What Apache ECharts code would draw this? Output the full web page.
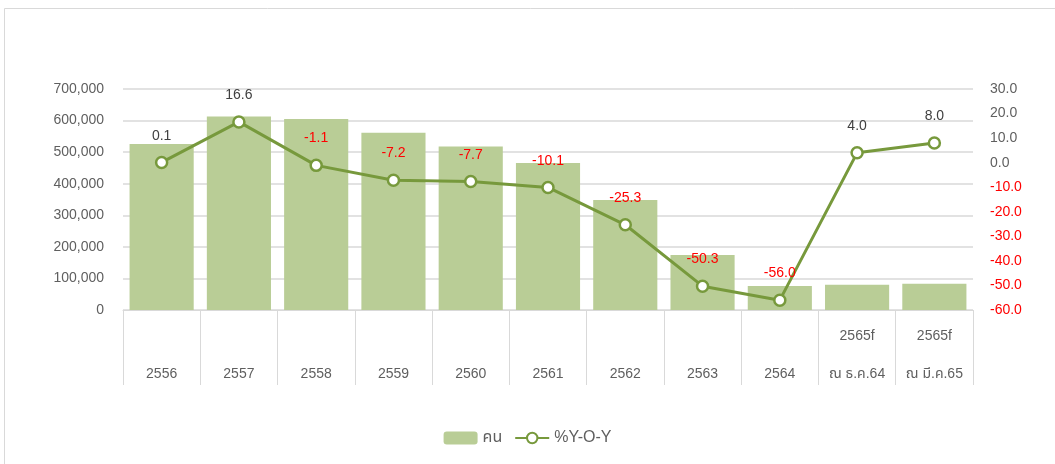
<!DOCTYPE html>
<html>
<head>
<meta charset="utf-8">
<script src="https://cdn.jsdelivr.net/npm/echarts@6/dist/echarts.min.js"></script>
<style>
  html, body { margin: 0; padding: 0; background: #fff; }
  #grafico { width: 1055px; height: 464px; }
</style>
</head>
<body>
<div id="grafico"></div>
<script>
// datos
const categorias = ['\n2556', '\n2557', '\n2558', '\n2559', '\n2560', '\n2561', '\n2562', '\n2563', '\n2564', '2565f\nณ ธ.ค.64', '2565f\nณ มี.ค.65']
const personas = [525800, 613000, 605000, 561500, 518000, 466000, 348500, 174000, 76000, 80000, 83000]
const yoy = [0.1, 16.6, -1.1, -7.2, -7.7, -10.1, -25.3, -50.3, -56.0, 4.0, 8.0]

const fuente = '"Liberation Sans", "Noto Sans", "Noto Sans Thai", sans-serif'
const gris = '#5f5f5f'
const rojo = '#ff0000'

let myChart = echarts.init(document.getElementById('grafico'))

let dataYoy = yoy.map(v => {
  return {
    value: v,
    label: { color: v < 0 ? rojo : '#404040' }
  }
})

let option = {
  animation: false,
  textStyle: { fontFamily: fuente },
  graphic: [
    {
      type: 'rect',
      shape: { x: 4.5, y: 8.5, width: 1200, height: 600 },
      style: { fill: 'none', stroke: '#d9d9d9', lineWidth: 1 },
      silent: true
    }
  ],
  grid: {
    left: 123,
    right: 82,
    top: 89,
    bottom: 154
  },
  legend: {
    bottom: 13,
    left: 'center',
    itemWidth: 34,
    itemHeight: 13,
    itemGap: 12,
    textStyle: { color: gris, fontSize: 16, fontFamily: fuente },
    data: ['คน', '%Y-O-Y']
  },
  xAxis: {
    type: 'category',
    data: categorias,
    axisLine: { lineStyle: { color: '#d9d9d9', width: 1 } },
    axisTick: {
      show: true,
      length: 75,
      interval: 0,
      alignWithLabel: false,
      lineStyle: { color: '#d9d9d9', width: 1 }
    },
    axisLabel: {
      interval: 0,
      margin: 7,
      lineHeight: 38,
      color: gris,
      fontSize: 14,
      fontFamily: fuente
    }
  },
  yAxis: [
    {
      type: 'value',
      min: 0,
      max: 700000,
      interval: 100000,
      axisLine: { show: false },
      axisTick: { show: false },
      axisLabel: {
        margin: 19,
        color: gris,
        fontSize: 14,
        fontFamily: fuente,
        formatter: v => v.toLocaleString('en-US')
      },
      splitLine: { lineStyle: { color: '#d9d9d9', width: 1.5 } }
    },
    {
      type: 'value',
      min: -60,
      max: 30,
      interval: 10,
      axisLine: { show: false },
      axisTick: { show: false },
      splitLine: { show: false },
      axisLabel: {
        margin: 17,
        fontSize: 14,
        fontFamily: fuente,
        color: v => (v < 0 ? rojo : gris),
        formatter: v => v.toFixed(1)
      }
    }
  ],
  series: [
    {
      name: 'คน',
      type: 'bar',
      yAxisIndex: 0,
      barCategoryGap: '17%',
      data: personas,
      itemStyle: { color: '#b9cd96' }
    },
    {
      name: '%Y-O-Y',
      type: 'line',
      yAxisIndex: 1,
      data: dataYoy,
      symbol: 'circle',
      symbolSize: 11,
      lineStyle: { color: '#77993c', width: 3 },
      itemStyle: { color: '#ffffff', borderColor: '#77993c', borderWidth: 2.5 },
      label: {
        show: true,
        position: 'top',
        distance: 13,
        fontSize: 14,
        fontFamily: fuente,
        formatter: p => p.value.toFixed(1)
      }
    }
  ]
}

myChart.setOption(option)
</script>
</body>
</html>
